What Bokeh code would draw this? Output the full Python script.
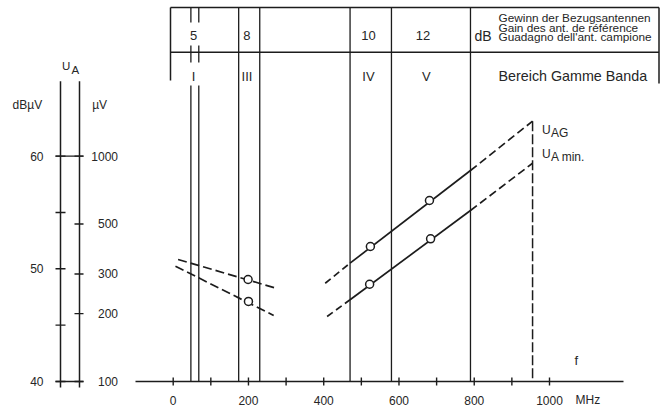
import math
from bokeh.plotting import figure
from bokeh.models import Range1d
from bokeh.embed import file_html
from bokeh.resources import INLINE
from bokeh.core.properties import value

# ---------------- data ----------------
freq_ticks = [0, 100, 200, 300, 400, 500, 600, 700, 800, 900, 1000]      # MHz
freq_labels = [0, 200, 400, 600, 800, 1000]
db_ticks = [40, 45, 50, 55, 60]                                           # dBµV
db_labels = [40, 50, 60]
uv_ticks = [100, 200, 300, 500, 1000]                                     # µV
band_I_edges = [47, 68]                                                   # MHz
band_edges = [174, 230, 470, 580, 790]                                    # MHz
band_names = ["I", "III", "IV", "V"]
band_gain_db = ["5", "8", "10", "12"]
band_label_f = [54, 196, 519, 664]
band_name_f = [54, 196, 519, 673]
f_max = 955                                                               # MHz

# VHF (bands I/III) – dashed
vhf_f_uag = [13, 270];   vhf_uag = [50.83, 48.31]
vhf_f_uamin = [6, 267];  vhf_uamin = [50.23, 45.86]
vhf_pt_f = [199, 200];   vhf_pt_db = [49.05, 47.10]

# UHF (bands IV/V): dashed lead-in, solid part, dashed tail
uag_f = [404, 470, 790, 955];   uag_db = [48.72, 50.50, 58.72, 63.10]
uamin_f = [409, 470, 790, 955]; uamin_db = [45.77, 47.25, 55.17, 59.37]
uhf_pt_f = [524, 681, 522, 684]
uhf_pt_db = [51.98, 56.06, 48.63, 52.66]

# ---------------- layout helpers ----------------
W, H = 667, 406
X0_PX, PX_PER_MHZ = 172.7, 0.3763     # px of 0 MHz, px per MHz
Y40_PX, PX_PER_DB = 381.0, 11.27       # px of 40 dB, px per dB


def fx(px):
    return (px - X0_PX) / PX_PER_MHZ


def fy(py):
    return 40 + (Y40_PX - py) / PX_PER_DB


FONT = value("Liberation Sans")
LC = "#1c1c1c"
TC = "#262626"

p = figure(width=W, height=H,
           x_range=Range1d(fx(0), fx(W)), y_range=Range1d(fy(H), fy(0)),
           x_axis_type=None, y_axis_type=None, toolbar_location=None,
           output_backend="svg", min_border=0, outline_line_color=None,
           background_fill_color="white", border_fill_color="white")


def txt(xs, ys, texts, size, align="center", baseline="middle"):
    p.text(x=xs, y=ys, text=texts, text_font=FONT, text_font_size=size,
           text_align=align, text_baseline=baseline, text_color=TC)


# ---------------- frequency axis ----------------
p.segment(x0=[fx(135)], y0=[40], x1=[fx(623)], y1=[40], line_color=LC, line_width=1.5)
p.segment(x0=freq_ticks, y0=[fy(377)] * len(freq_ticks), x1=freq_ticks,
          y1=[fy(385)] * len(freq_ticks), line_color=LC, line_width=1.4)
txt(freq_labels, [fy(399.5)] * len(freq_labels), [str(v) for v in freq_labels], "12px")
txt([fx(575)], [fy(399.5)], ["MHz"], "12px", align="left")
txt([fx(574)], [fy(360)], ["f"], "13px", align="left")

# ---------------- band lines ----------------
TOP = fy(7)
p.segment(x0=band_edges, y0=[TOP] * len(band_edges), x1=band_edges,
          y1=[40] * len(band_edges), line_color=LC, line_width=1.3)
for f in band_I_edges:
    for a, b in [(7, 22), (45, 62), (85, Y40_PX)]:
        p.segment(x0=[f], y0=[fy(a)], x1=[f], y1=[fy(b)], line_color=LC, line_width=1.3)

# ---------------- table ----------------
xl, xr = fx(170), fx(658.5)
p.segment(x0=[xl, xl], y0=[TOP, fy(51.7)], x1=[xr, xr], y1=[TOP, fy(51.7)],
          line_color=LC, line_width=1.5)
p.segment(x0=[xl, xr], y0=[TOP, TOP], x1=[xl, xr], y1=[fy(80), fy(83)],
          line_color=LC, line_width=1.5)
txt(band_label_f, [fy(35)] * 4, band_gain_db, "13px")
txt(band_name_f, [fy(76)] * 4, band_names, "13px")
txt([fx(474)], [fy(35.5)], ["dB"], "14px", align="left")
txt([fx(498)] * 3, [fy(17.5), fy(27), fy(36.5)],
    ["Gewinn der Bezugsantennen", "Gain des ant. de référence",
     "Guadagno dell'ant. campione"], "11.8px", align="left")
txt([fx(498)], [fy(75)], ["Bereich Gamme Banda"], "14.3px", align="left")

# ---------------- U_A scale (dBµV / µV) ----------------
xa, xb = fx(60), fx(79)
p.segment(x0=[xa, xb], y0=[fy(80.7)] * 2, x1=[xa, xb], y1=[fy(387)] * 2,
          line_color=LC, line_width=1.5)
p.segment(x0=[fx(55)] * len(db_ticks), y0=db_ticks, x1=[fx(65)] * len(db_ticks),
          y1=db_ticks, line_color=LC, line_width=1.4)
uv_db = [20 * math.log10(u) for u in uv_ticks]
p.segment(x0=[fx(74)] * len(uv_db), y0=uv_db, x1=[fx(83)] * len(uv_db), y1=uv_db,
          line_color=LC, line_width=1.4)
joined = [d for d in db_ticks if any(abs(d - u) < 1e-6 for u in uv_db)]
p.segment(x0=[fx(55)] * len(joined), y0=joined, x1=[fx(83)] * len(joined), y1=joined,
          line_color=LC, line_width=1.4)
txt([fx(43)] * len(db_labels), db_labels, [str(d) for d in db_labels], "12px", align="right")
txt([fx(117.5)] * len(uv_db), uv_db, [str(u) for u in uv_ticks], "12px", align="right")
txt([fx(41.7)], [fy(104)], ["dBµV"], "12px", align="right")
txt([fx(91.7)], [fy(104)], ["µV"], "12px", align="left")
txt([fx(61.5)], [fy(65.5)], ["U"], "11.5px", align="left")
txt([fx(71)], [fy(69.8)], ["A"], "11.5px", align="left")

# ---------------- curves ----------------
p.line(vhf_f_uag, vhf_uag, line_color=LC, line_width=1.7, line_dash="9 4")
p.line(vhf_f_uamin, vhf_uamin, line_color=LC, line_width=1.7, line_dash="9 4")
for fs, ds in [(uag_f, uag_db), (uamin_f, uamin_db)]:
    p.line(fs[0:2], ds[0:2], line_color=LC, line_width=1.7, line_dash="7 4")
    p.line(fs[1:3], ds[1:3], line_color=LC, line_width=1.7)
    p.line(fs[2:4], ds[2:4], line_color=LC, line_width=1.7, line_dash="8 4")

p.line([f_max, f_max], [uag_db[-1], 40], line_color=LC, line_width=1.5, line_dash="10 3")

p.scatter(vhf_pt_f + uhf_pt_f, vhf_pt_db + uhf_pt_db, marker="circle", size=8,
          fill_color="white", line_color=LC, line_width=1.5)

# curve labels
txt([fx(541.5)], [fy(129.5)], ["U"], "12px", align="left")
txt([fx(550.5)], [fy(132)], ["AG"], "12px", align="left")
txt([fx(541.5)], [fy(153.5)], ["U"], "12px", align="left")
txt([fx(550.5)], [fy(156)], ["A min."], "12px", align="left")

open("out.html", "w").write(file_html(p, INLINE))
